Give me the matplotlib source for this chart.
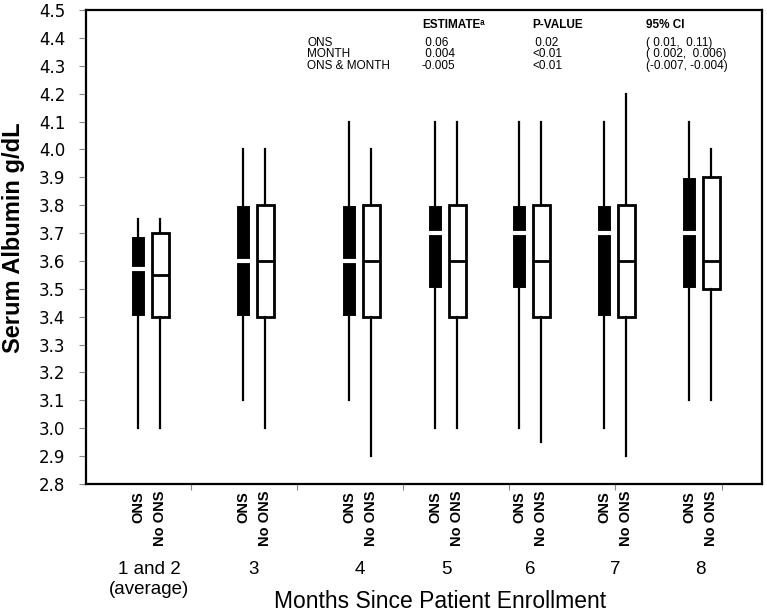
import matplotlib
matplotlib.use('Agg')
import matplotlib.pyplot as plt
from matplotlib.transforms import blended_transform_factory

plt.rcParams['font.family'] = ['Liberation Sans', 'DejaVu Sans']

# group labels along the x axis
groups = ['1 and 2\n(average)', '3', '4', '5', '6', '7', '8']

# ONS boxes: whisker low, q1, median, q3, whisker high
ons_low = [3.0, 3.1, 3.1, 3.0, 3.0, 3.0, 3.1]
ons_q1 = [3.4, 3.4, 3.4, 3.5, 3.5, 3.4, 3.5]
ons_med = [3.57, 3.6, 3.6, 3.7, 3.7, 3.7, 3.7]
ons_q3 = [3.69, 3.8, 3.8, 3.8, 3.8, 3.8, 3.9]
ons_high = [3.75, 4.0, 4.1, 4.1, 4.1, 4.1, 4.1]

# No ONS boxes
no_low = [3.0, 3.0, 2.9, 3.0, 2.95, 2.9, 3.1]
no_q1 = [3.4, 3.4, 3.4, 3.4, 3.4, 3.4, 3.5]
no_med = [3.55, 3.6, 3.6, 3.6, 3.6, 3.6, 3.6]
no_q3 = [3.7, 3.8, 3.8, 3.8, 3.8, 3.8, 3.9]
no_high = [3.75, 4.0, 4.0, 4.1, 4.1, 4.2, 4.0]

# model results table
terms = ['ONS', 'MONTH', 'ONS & MONTH']
estimates = [' 0.06', ' 0.004', '-0.005']
pvalues = [' 0.02', '<0.01', '<0.01']
cis = ['( 0.01,  0.11)', '( 0.002,  0.006)', '(-0.007, -0.004)']

# layout (pixel-like x units)
centers = [63, 168, 274, 360, 444, 529, 614]
ticks = [105, 211, 317, 423, 529, 636]
off = 11


def stats(low, q1, med, q3, high):
    return [dict(whislo=a, q1=b, med=c, q3=d, whishi=e, fliers=[])
            for a, b, c, d, e in zip(low, q1, med, q3, high)]


fig = plt.figure(figsize=(7.67, 6.13), dpi=100)
ax = fig.add_axes([86 / 767, 1 - 484 / 613, 676 / 767, 474 / 613])

pos_ons = [c - off for c in centers]
pos_no = [c + off for c in centers]

ax.bxp(stats(ons_low, ons_q1, ons_med, ons_q3, ons_high), positions=pos_ons,
       widths=15, patch_artist=True, showcaps=False, manage_ticks=False,
       boxprops=dict(facecolor='black', edgecolor='white', linewidth=1.5),
       medianprops=dict(color='white', linewidth=3),
       whiskerprops=dict(color='black', linewidth=1.6))
ax.bxp(stats(no_low, no_q1, no_med, no_q3, no_high), positions=pos_no,
       widths=17, patch_artist=True, showcaps=False, manage_ticks=False,
       boxprops=dict(facecolor='white', edgecolor='black', linewidth=2),
       medianprops=dict(color='black', linewidth=2),
       whiskerprops=dict(color='black', linewidth=1.6))

ax.set_xlim(0, 676)
ax.set_ylim(2.8, 4.5)
ax.set_yticks([2.8 + 0.1 * i for i in range(18)])
ax.set_yticklabels(['%.1f' % (2.8 + 0.1 * i) for i in range(18)],
                   fontsize=12, family=['DejaVu Sans'])
ax.set_xticks(ticks)
ax.set_xticklabels([])
ax.set_xticks(pos_ons + pos_no, minor=True)
ax.set_xticklabels(['ONS'] * 7 + ['No ONS'] * 7, minor=True, rotation=90,
                   fontsize=10.5, fontweight='bold', va='top')
ax.tick_params(axis='x', which='minor', length=0, pad=5)
ax.tick_params(axis='x', which='major', length=4, color='#888888')
ax.tick_params(axis='y', length=5, color='#888888', pad=10)
for s in ax.spines.values():
    s.set_linewidth(1.6)

tr = blended_transform_factory(ax.transData, ax.transAxes)
for c, g in zip(centers, groups):
    ax.text(c, -0.163, g, transform=tr, ha='center', va='top', fontsize=13.5,
            linespacing=1.2)
fig.text(440 / 767, 1 - 602 / 613, 'Months Since Patient Enrollment',
         ha='center', va='center', fontsize=16.5)
ax.set_ylabel('Serum Albumin g/dL', fontsize=17, fontweight='bold')
ax.yaxis.set_label_coords(-(86 - 25) / 676, 0.52)

# results table
fs = 8.5
ax.text(0.497, 0.968, 'ESTIMATE\u1d43', transform=ax.transAxes, fontsize=fs,
        fontweight='bold', va='center')
ax.text(0.66, 0.968, 'P-VALUE', transform=ax.transAxes, fontsize=fs,
        fontweight='bold', va='center')
ax.text(0.829, 0.968, '95% CI', transform=ax.transAxes, fontsize=fs,
        fontweight='bold', va='center')
for i, (t, e, p, ci) in enumerate(zip(terms, estimates, pvalues, cis)):
    y = 0.931 - 0.0245 * i
    ax.text(0.327, y, t, transform=ax.transAxes, fontsize=fs, va='center')
    ax.text(0.497, y, e, transform=ax.transAxes, fontsize=fs, va='center')
    ax.text(0.66, y, p, transform=ax.transAxes, fontsize=fs, va='center')
    ax.text(0.829, y, ci, transform=ax.transAxes, fontsize=fs, va='center')

fig.savefig('out.png', dpi=100)
